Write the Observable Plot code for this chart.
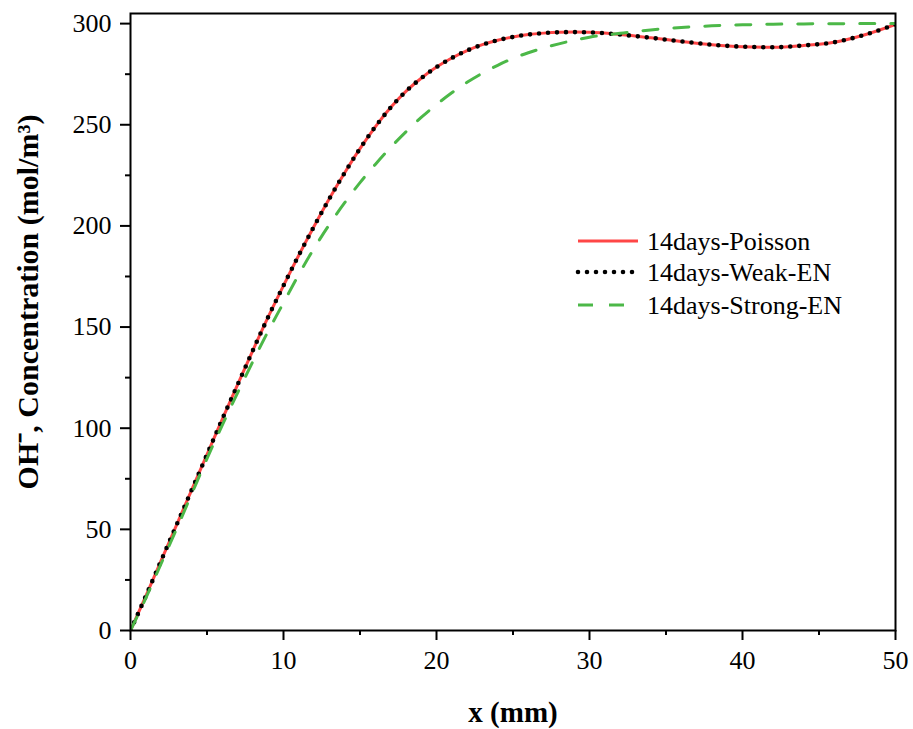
<!DOCTYPE html>
<html><head><meta charset="utf-8">
<script src="https://cdn.jsdelivr.net/npm/d3@7"></script>
<script src="https://cdn.jsdelivr.net/npm/@observablehq/plot@0.6"></script>
<style>body{margin:0;background:#fff}</style>
</head><body><div id="chart"></div>
<script>
const xs       = [0,1,2,3,4,5,6,7,8,9,10,11,12,13,14,15,16,17,18,19,20,21,22,23,24,25,26,27,28,29,30,32,34,36,38,40,42,44,46,48,50];
const poisson  = [0,17,34.5,52,69.5,87,104.5,121.5,138.5,155,170.5,185.5,199.8,213.5,226.3,238.2,249,258.5,266.5,273,278.5,283,286.7,289.6,291.8,293.4,294.6,295.3,295.7,295.8,295.7,294.6,293,291.2,289.6,288.6,288.3,289.2,290.8,294.5,299.6];
const weakEN   = [0,17,34.5,52,69.5,87,104.5,121.5,138.5,155,170.5,185.5,199.8,213.5,226.3,238.2,249,258.5,266.5,273,278.5,283,286.7,289.6,291.8,293.4,294.6,295.3,295.7,295.8,295.7,294.6,293,291.2,289.6,288.6,288.3,289.2,290.8,294.5,299.6];
const strongEN = [0,16,33,50,67.5,85,101.5,117.5,133,148,162,176,188.9,200.7,211.5,221.4,230.4,238.8,246.5,253.6,260,265.8,271,275.5,279.4,282.8,285.6,288,290,291.8,293.3,295.2,296.9,298.1,298.9,299.4,299.7,299.85,299.95,300,300];

const seriesNames = ["14days-Poisson", "14days-Weak-EN", "14days-Strong-EN"];
const xMajorTicks = [0,10,20,30,40,50];
const xMinorTicks = [5,15,25,35,45];
const yMajorTicks = [0,50,100,150,200,250,300];
const yMinorTicks = [25,75,125,175,225,275];
const xLabel = "x (mm)";
const yLabel = "OH⁻, Concentration (mol/m³)";

const FONT = "'Liberation Serif', 'Times New Roman', serif";
const RED = "#ff4646", BLACK = "#000", GREEN = "#4cb848";
const rows = s => xs.map((x, i) => ({x, y: s[i]}));

const chart = Plot.plot({
  width: 913, height: 729,
  marginLeft: 130, marginRight: 18, marginTop: 13, marginBottom: 99,
  style: {fontFamily: FONT, fontSize: "26px", background: "white", color: "black"},
  x: {domain: [0, 50]},
  y: {domain: [0, 305]},
  marks: [
    Plot.axisX(xMinorTicks, {tickSize: 5, strokeWidth: 2, tickFormat: () => "", label: null}),
    Plot.axisX(xMajorTicks, {tickSize: 10, strokeWidth: 2, tickPadding: 10, fontSize: 26, label: null}),
    Plot.axisY(yMinorTicks, {tickSize: 5, strokeWidth: 2, tickFormat: () => "", label: null}),
    Plot.axisY(yMajorTicks, {tickSize: 10, strokeWidth: 2, tickPadding: 9, fontSize: 26, label: null}),
    Plot.line(rows(poisson), {x: "x", y: "y", stroke: RED, strokeWidth: 3, curve: "monotone-x", clip: true}),
    Plot.line(rows(weakEN), {x: "x", y: "y", stroke: BLACK, strokeWidth: 4.6, strokeDasharray: "0 9", strokeLinecap: "round", curve: "monotone-x", clip: true}),
    Plot.line(rows(strongEN), {x: "x", y: "y", stroke: GREEN, strokeWidth: 3, strokeDasharray: "15 16", curve: "monotone-x", clip: true}),
    Plot.frame({stroke: "black", strokeWidth: 2}),
    Plot.text([xLabel], {text: d => d, frameAnchor: "bottom", textAnchor: "middle", lineAnchor: "middle", dy: 82, fontSize: 29, fontWeight: "bold", fill: "black"}),
    Plot.text([yLabel], {text: d => d, frameAnchor: "left", textAnchor: "middle", lineAnchor: "middle", dx: -102, dy: -20, rotate: -90, fontSize: 30, fontWeight: "bold", fill: "black"})
  ]
});
document.getElementById("chart").appendChild(chart);

// legend
const svg = d3.select(chart);
const leg = svg.append("g").attr("font-family", FONT).attr("font-size", 26).attr("text-anchor", "start");
const styles = [
  {stroke: RED, w: 3, dash: null, cap: "butt"},
  {stroke: BLACK, w: 4.6, dash: "0 9", cap: "round"},
  {stroke: GREEN, w: 3, dash: "15 16", cap: "butt"}
];
const legY = [241, 272, 305];
seriesNames.forEach((name, i) => {
  const st = styles[i];
  const ln = leg.append("line").attr("x1", 578).attr("x2", 638).attr("y1", legY[i]).attr("y2", legY[i])
    .attr("stroke", st.stroke).attr("stroke-width", st.w).attr("stroke-linecap", st.cap);
  if (st.dash) ln.attr("stroke-dasharray", st.dash);
  leg.append("text").attr("x", 647).attr("y", legY[i]).attr("dy", "0.35em").attr("fill", "black").text(name);
});
</script>
</body></html>
